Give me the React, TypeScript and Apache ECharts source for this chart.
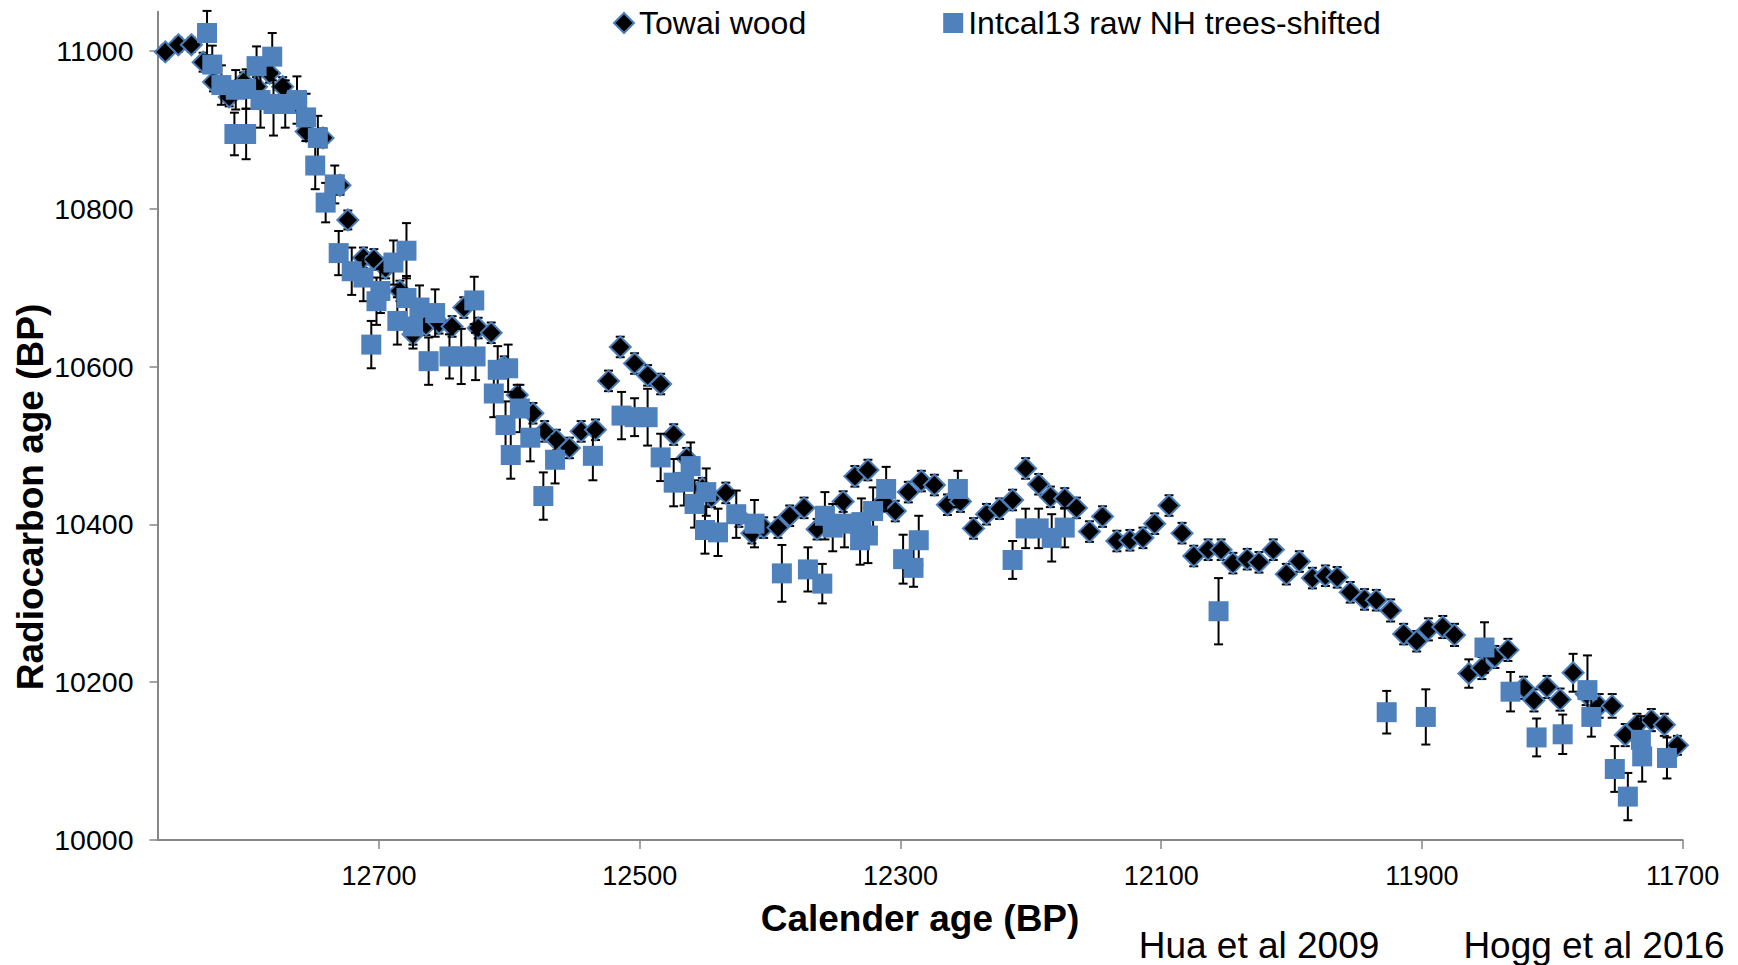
import React, { useEffect, useRef } from 'react';
import * as echarts from 'echarts';

const FONT = '"Liberation Sans", Arial, Helvetica, sans-serif';

// Towai wood (calendar age BP, radiocarbon age BP, 1-sigma error)
const towaiX = [
  12864, 12854, 12844, 12835, 12827, 12815, 12804, 12794, 12784, 12774,
  12764, 12756, 12743, 12730, 12724, 12712, 12704, 12695, 12684, 12674,
  12664, 12654, 12644, 12635, 12624, 12614, 12604, 12594, 12582, 12573,
  12564, 12554, 12545, 12534, 12524, 12515, 12504, 12494, 12484, 12474,
  12464, 12452, 12445, 12434, 12424, 12414, 12405, 12394, 12385, 12374,
  12364, 12354, 12344, 12335, 12325, 12313, 12304, 12294, 12284, 12274,
  12264, 12254, 12244, 12234, 12224, 12214, 12204, 12194, 12185, 12174,
  12165, 12155, 12145, 12134, 12124, 12114, 12105, 12094, 12084, 12075,
  12064, 12054, 12045, 12034, 12025, 12014, 12004, 11994, 11984, 11974,
  11965, 11955, 11944, 11935, 11924, 11914, 11904, 11895, 11884, 11875,
  11864, 11854, 11844, 11834, 11822, 11814, 11804, 11794, 11784, 11774,
  11764, 11754, 11744, 11735, 11724, 11714, 11704,
];
const towaiY = [
  10999, 11008, 11008, 10986, 10961, 10942, 10961, 10955, 10972, 10955,
  10935, 10898, 10890, 10830, 10786, 10738, 10736, 10725, 10696, 10641,
  10653, 10655, 10651, 10675, 10649, 10643, 10600, 10564, 10541, 10518,
  10507, 10497, 10518, 10520, 10582, 10625, 10604, 10589, 10578, 10514,
  10484, 10446, 10435, 10440, 10410, 10389, 10396, 10396, 10411, 10421,
  10394, 10405, 10429, 10461, 10469, 10429, 10417, 10441, 10455, 10450,
  10425, 10429, 10395, 10413, 10420, 10431, 10471, 10451, 10435, 10433,
  10421, 10391, 10410, 10379, 10380, 10383, 10401, 10424, 10389, 10360,
  10368, 10368, 10351, 10356, 10352, 10368, 10337, 10353, 10332, 10335,
  10333, 10314, 10305, 10304, 10291, 10261, 10252, 10267, 10270, 10260,
  10211, 10218, 10232, 10241, 10193, 10177, 10194, 10178, 10212, 10185,
  10170, 10170, 10133, 10146, 10152, 10146, 10120,
];
const towaiErr = [
  9, 9, 9, 12, 12, 12, 12, 12, 12, 12,
  12, 12, 12, 12, 12, 13, 13, 13, 13, 13,
  13, 13, 13, 13, 13, 13, 13, 13, 13, 13,
  13, 13, 13, 13, 13, 13, 13, 13, 13, 13,
  13, 13, 13, 13, 13, 13, 13, 13, 13, 13,
  13, 13, 13, 13, 13, 13, 13, 13, 13, 13,
  13, 13, 13, 13, 13, 13, 13, 13, 13, 13,
  13, 13, 13, 13, 13, 13, 13, 13, 13, 13,
  13, 13, 13, 13, 13, 13, 13, 13, 13, 13,
  13, 13, 13, 13, 14, 13, 13, 14, 14, 14,
  18, 14, 14, 14, 14, 14, 14, 14, 24, 14,
  15, 15, 14, 14, 14, 14, 12,
];

// Intcal13 raw NH trees-shifted
const intcalX = [
  12832, 12828, 12821, 12810, 12802, 12811, 12802, 12794, 12782, 12791,
  12781, 12772, 12763, 12756, 12747, 12749, 12734, 12741, 12731, 12721,
  12712, 12689, 12679, 12699, 12702, 12706, 12686, 12679, 12674, 12669,
  12657, 12662, 12646, 12637, 12626, 12627, 12612, 12609, 12601, 12603,
  12599, 12592, 12584, 12574, 12565, 12536, 12514, 12504, 12494, 12484,
  12474, 12466, 12461, 12458, 12450, 12449, 12440, 12426, 12412, 12391,
  12371, 12360, 12358, 12352, 12343, 12331, 12330, 12325, 12321, 12311,
  12298, 12290, 12286, 12256, 12214, 12204, 12194, 12184, 12174, 12056,
  11927, 11897, 11852, 11832, 11812, 11792, 11773, 11770, 11752, 11742,
  11732, 11731, 11712,
];
const intcalY = [
  11023, 10983, 10957, 10951, 10952, 10895, 10895, 10981, 10993, 10938,
  10933, 10933, 10938, 10916, 10890, 10855, 10831, 10808, 10744, 10721,
  10713, 10732, 10747, 10696, 10683, 10628, 10658, 10687, 10651, 10675,
  10668, 10607, 10613, 10613, 10613, 10684, 10566, 10596, 10598, 10526,
  10488, 10547, 10510, 10436, 10482, 10487, 10538, 10536, 10536, 10485,
  10453, 10454, 10474, 10426, 10393, 10441, 10390, 10413, 10401, 10338,
  10343, 10325, 10411, 10396, 10401, 10380, 10403, 10386, 10417, 10445,
  10356, 10345, 10380, 10445, 10355, 10395, 10395, 10383, 10396, 10290,
  10162, 10156, 10244, 10188, 10130, 10134, 10190, 10156, 10090, 10055,
  10127, 10106, 10104,
];
const intcalErr = [
  28, 24, 25, 25, 25, 27, 32, 25, 30, 35,
  40, 30, 30, 30, 28, 30, 24, 25, 28, 30,
  30, 28, 35, 28, 30, 30, 30, 28, 28, 28,
  30, 30, 28, 35, 30, 30, 30, 30, 30, 30,
  30, 30, 30, 30, 30, 31, 30, 24, 36, 30,
  30, 30, 30, 30, 30, 30, 30, 30, 30, 36,
  28, 25, 30, 30, 30, 31, 30, 35, 30, 28,
  31, 24, 31, 23, 24, 25, 25, 30, 25, 42,
  27, 35, 32, 25, 24, 25, 44, 25, 29, 30,
  30, 32, 26,
];

const xTicks = [11700, 11900, 12100, 12300, 12500, 12700];
const yTicks = [10000, 10200, 10400, 10600, 10800, 11000];

const SERIES_TOWAI = 'Towai wood';
const SERIES_INTCAL = 'Intcal13 raw NH trees-shifted';

function errorRender(params: any, api: any) {
  const x = api.value(0);
  const lo = api.coord([x, api.value(1)]);
  const hi = api.coord([x, api.value(2)]);
  const cap = 4.5;
  const style = { stroke: '#000000', lineWidth: 2 };
  return {
    type: 'group',
    children: [
      { type: 'line', shape: { x1: hi[0], y1: hi[1], x2: lo[0], y2: lo[1] }, style },
      { type: 'line', shape: { x1: hi[0] - cap, y1: hi[1], x2: hi[0] + cap, y2: hi[1] }, style },
      { type: 'line', shape: { x1: lo[0] - cap, y1: lo[1], x2: lo[0] + cap, y2: lo[1] }, style },
    ],
  };
}

const plainNumber = (v: number) => String(Math.round(v));

export default function App() {
  const ref = useRef<HTMLDivElement>(null);

  useEffect(() => {
    if (!ref.current) return;
    const chart = echarts.init(ref.current, undefined, { renderer: 'svg' });

    const towaiPts = towaiX.map((x, i) => [x, towaiY[i]]);
    const towaiBars = towaiX.map((x, i) => [x, towaiY[i] - towaiErr[i], towaiY[i] + towaiErr[i]]);
    const intcalPts = intcalX.map((x, i) => [x, intcalY[i]]);
    const intcalBars = intcalX.map((x, i) => [x, intcalY[i] - intcalErr[i], intcalY[i] + intcalErr[i]]);

    const axisColor = '#868686';

    chart.setOption({
      animation: false,
      backgroundColor: '#ffffff',
      textStyle: { fontFamily: FONT },
      grid: { left: 157.5, right: 55.4, top: 11.7, bottom: 125, outerBoundsMode: 'none' },
      legend: {
        data: [
          { name: SERIES_TOWAI, icon: 'diamond' },
          { name: SERIES_INTCAL, icon: 'rect' },
        ],
        left: 613,
        top: 7,
        padding: 0,
        itemWidth: 20,
        itemHeight: 20,
        itemGap: 137,
        textStyle: { fontSize: 32, color: '#000000', fontFamily: FONT },
      },
      xAxis: {
        type: 'value',
        min: 11700,
        max: 12870,
        inverse: true,
        axisLine: { show: true, lineStyle: { color: axisColor, width: 2 } },
        axisTick: { show: true, inside: false, length: 9, customValues: xTicks, lineStyle: { color: axisColor, width: 1.5 } },
        axisLabel: { customValues: xTicks, formatter: plainNumber, fontSize: 27, color: '#000000', margin: 22, fontFamily: FONT },
        splitLine: { show: false },
      },
      yAxis: {
        type: 'value',
        min: 10000,
        max: 11050,
        axisLine: { show: true, lineStyle: { color: axisColor, width: 2 } },
        axisTick: { show: true, inside: false, length: 8, customValues: yTicks, lineStyle: { color: axisColor, width: 1.5 } },
        axisLabel: { customValues: yTicks, formatter: plainNumber, fontSize: 28.5, color: '#000000', margin: 24, fontFamily: FONT },
        splitLine: { show: false },
      },
      graphic: [
        {
          type: 'text', x: 30, y: 497, rotation: Math.PI / 2,
          style: { text: 'Radiocarbon age (BP)', fontSize: 37, fontWeight: 'bold', fontFamily: FONT, fill: '#000000', align: 'center', verticalAlign: 'middle', textAlign: 'center', textVerticalAlign: 'middle' },
        },
        {
          type: 'text', x: 920, y: 918,
          style: { text: 'Calender age (BP)', fontSize: 37, fontWeight: 'bold', fontFamily: FONT, fill: '#000000', align: 'center', verticalAlign: 'middle', textAlign: 'center', textVerticalAlign: 'middle' },
        },
        {
          type: 'text', x: 1259, y: 945,
          style: { text: 'Hua et al 2009', fontSize: 37, fontFamily: FONT, fill: '#000000', align: 'center', verticalAlign: 'middle', textAlign: 'center', textVerticalAlign: 'middle' },
        },
        {
          type: 'text', x: 1594, y: 945,
          style: { text: 'Hogg et al 2016', fontSize: 37, fontFamily: FONT, fill: '#000000', align: 'center', verticalAlign: 'middle', textAlign: 'center', textVerticalAlign: 'middle' },
        },
      ],
      series: [
        {
          name: 'Towai error',
          type: 'custom',
          renderItem: errorRender,
          data: towaiBars,
          encode: { x: 0, y: [1, 2] },
          z: 1,
          silent: true,
        },
        {
          name: SERIES_TOWAI,
          type: 'scatter',
          symbol: 'diamond',
          symbolSize: 21,
          data: towaiPts,
          itemStyle: { color: '#000000', borderColor: '#4A7EBB', borderWidth: 2, opacity: 1 },
          z: 2,
        },
        {
          name: 'Intcal error',
          type: 'custom',
          renderItem: errorRender,
          data: intcalBars,
          encode: { x: 0, y: [1, 2] },
          z: 3,
          silent: true,
        },
        {
          name: SERIES_INTCAL,
          type: 'scatter',
          symbol: 'rect',
          symbolSize: 20,
          data: intcalPts,
          itemStyle: { color: '#4F81BD', opacity: 1 },
          z: 4,
        },
      ],
    });

    return () => chart.dispose();
  }, []);

  return (
    <div
      ref={ref}
      style={{ position: 'fixed', left: 0, top: 0, width: 1738, height: 965, background: '#ffffff' }}
    />
  );
}
